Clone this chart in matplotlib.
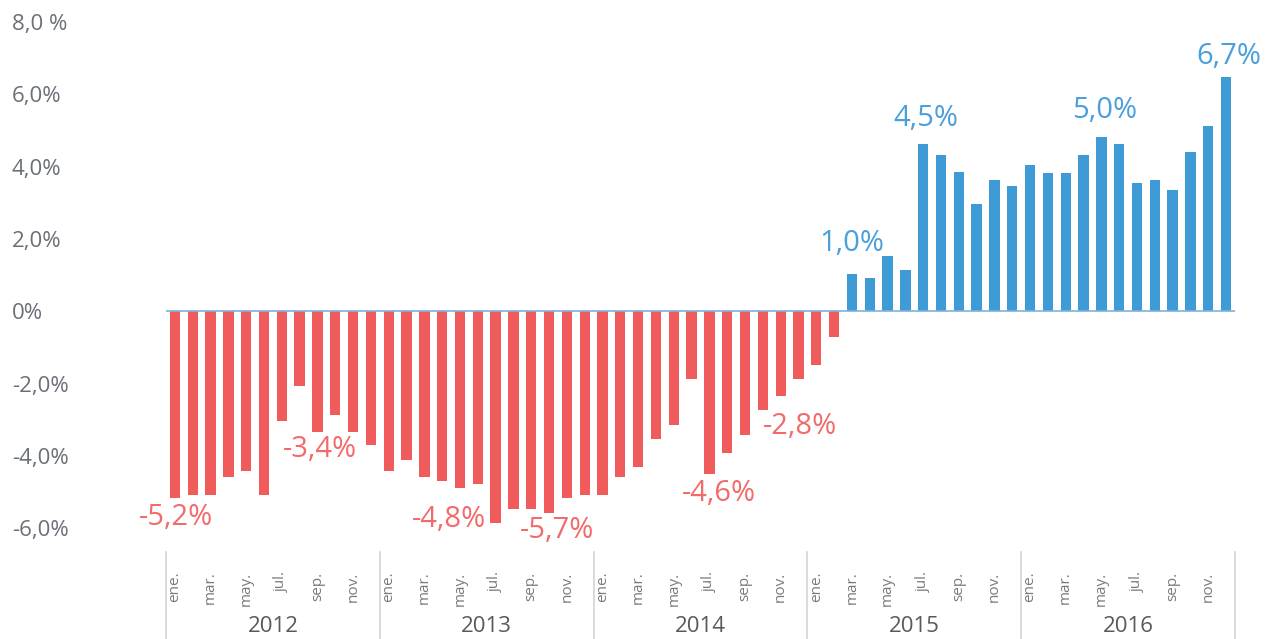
import numpy as np
import matplotlib
matplotlib.use('Agg')
import matplotlib.pyplot as plt
import matplotlib.transforms as mtransforms

plt.rcParams['font.family'] = ['Open Sans', 'DejaVu Sans']

# monthly year-on-year change, %, ene. 2012 .. dic. 2016
years = ['2012', '2013', '2014', '2015', '2016']
month_ticks = ['ene.', 'mar.', 'may.', 'jul.', 'sep.', 'nov.']
values = [
	-5.15, -5.07, -5.07, -4.59, -4.40, -5.07, -3.04, -2.05, -3.33, -2.85, -3.33, -3.70,
	-4.40, -4.12, -4.59, -4.69, -4.88, -4.78, -5.85, -5.47, -5.47, -5.56, -5.17, -5.07,
	-5.07, -4.59, -4.31, -3.52, -3.13, -1.86, -4.49, -3.91, -3.41, -2.73, -2.35, -1.86,
	-1.47, -0.71, 1.04, 0.93, 1.53, 1.14, 4.63, 4.32, 3.84, 2.97, 3.63, 3.46,
	4.05, 3.83, 3.83, 4.33, 4.83, 4.63, 3.55, 3.63, 3.36, 4.42, 5.12, 6.48,
]
y_ticks = [8, 6, 4, 2, 0, -2, -4, -6]
y_tick_labels = ['8,0 %', '6,0%', '4,0%', '2,0%', '0%', '-2,0%', '-4,0%', '-6,0%']

# highlighted labels: (bar index, text)
callouts = [(0, '-5,2%'), (8, '-3,4%'), (16, '-4,8%'), (21, '-5,7%'), (30, '-4,6%'),
	(33, '-2,8%'), (38, '1,0%'), (42, '4,5%'), (52, '5,0%'), (59, '6,7%')]
# offsets of each label from its bar end, in points
callout_offsets = [(1, -14), (2, -13), (-8, -23), (6, -13), (7, -14),
	(27, -12), (0, 22), (2, 18), (2, 19), (2, 15)]

RED = '#f05b5b'
BLUE = '#3f9bd6'
RED_TXT = '#f26a6a'
BLUE_TXT = '#4a9fdc'

fig = plt.figure(figsize=(12.71, 6.39), dpi=100)
ax = fig.add_axes([166 / 1271, 1 - 552 / 639, (1235 - 166) / 1271, 530 / 639])

x = np.arange(len(values))
colors = [RED if v < 0 else BLUE for v in values]
ax.bar(x, values, width=0.58, color=colors, zorder=2)
ax.axhline(0, color='#7fb0de', lw=1.2, zorder=3)

ax.set_xlim(-0.5, len(values) - 0.5)
ax.set_ylim(-6.65, 8.0)
for s in ax.spines.values():
	s.set_visible(False)

ax.set_yticks(y_ticks)
ax.set_yticklabels(y_tick_labels, ha='left', fontsize=16, color='#6a6f78')
ax.tick_params(axis='y', length=0, pad=111)

ax.set_xticks(np.arange(0, len(values), 2))
ax.set_xticklabels(month_ticks * len(years), rotation=90, fontsize=11, color='#7a7a7a')
ax.tick_params(axis='x', length=0, pad=14)

# year separators and year names under the month ticks
trans = mtransforms.blended_transform_factory(ax.transData, ax.transAxes)
for k in range(len(years) + 1):
	ax.plot([k * 12 - 0.5, k * 12 - 0.5], [0, -0.18], transform=trans,
		color='#d4d4d4', lw=1.2, clip_on=False)
for k, yr in enumerate(years):
	ax.text(k * 12 + 5.5, -0.14, yr, transform=trans, ha='center', va='center',
		fontsize=16, color='#595959')

for (i, txt), (dx, dy) in zip(callouts, callout_offsets):
	v = values[i]
	ax.annotate(txt, xy=(i, v), xytext=(dx, dy), textcoords='offset points',
		ha='center', va='center', fontsize=21,
		color=RED_TXT if v < 0 else BLUE_TXT)

fig.savefig('out.png', dpi=100, facecolor='white')
